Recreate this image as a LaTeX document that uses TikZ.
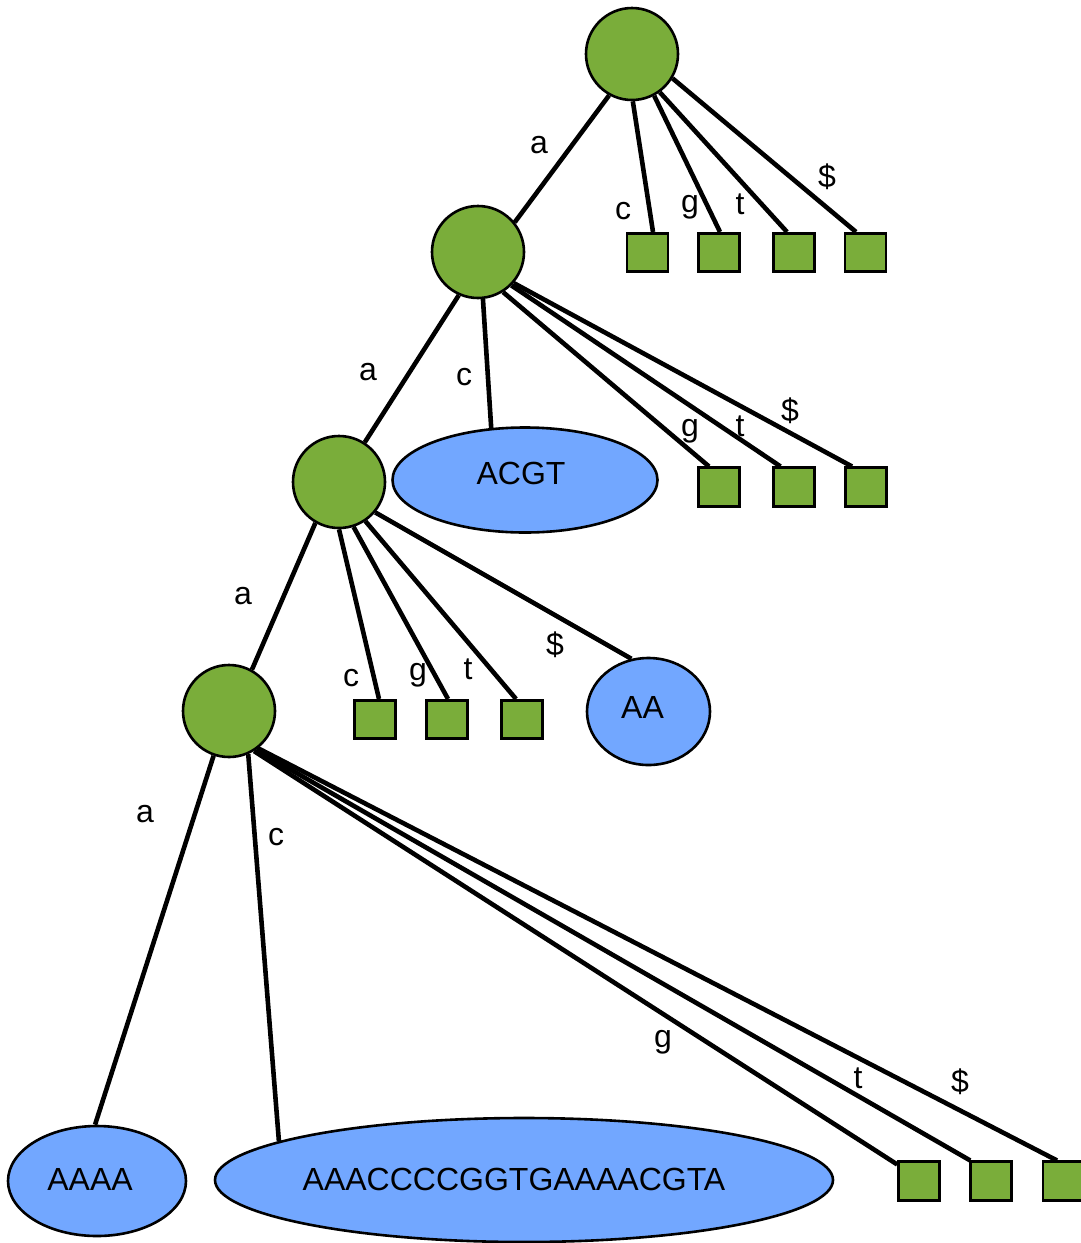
\documentclass[tikz,border=0pt]{standalone}
\usepackage{fontspec}
\setmainfont{Liberation Sans}
\usetikzlibrary{shapes.geometric,calc,backgrounds}
\definecolor{ngreen}{RGB}{122,173,58}
\definecolor{nblue}{RGB}{114,167,255}
\begin{document}
\begin{tikzpicture}[x=1pt,y=-1pt, font=\fontsize{32}{38}\selectfont,
  inode/.style={circle, draw=black, line width=2.6pt, fill=ngreen, minimum size=92pt, inner sep=0pt},
  leaf/.style={rectangle, draw=black, line width=2.6pt, fill=ngreen, minimum width=41pt, minimum height=38.5pt, inner sep=0pt},
  seq/.style={ellipse, draw=black, line width=2.6pt, fill=nblue, inner sep=0pt, text height=23pt},
  conn/.style={line width=4.6pt},
  lbl/.style={anchor=base, inner sep=0pt}]
\useasboundingbox (0,0) rectangle (1081,1243);
% internal nodes
\node[inode] (r0) at (632,54) {};
\node[inode] (n1) at (478,252) {};
\node[inode] (n2) at (339,482) {};
\node[inode] (n3) at (229,711) {};
% leaves of root
\node[leaf] (s01) at (647.5,252.5) {};
\node[leaf] (s02) at (719,252.5) {};
\node[leaf] (s03) at (794,252.5) {};
\node[leaf] (s04) at (865.5,252.5) {};
% children of n1
\node[seq, minimum width=265pt, minimum height=105pt, text depth=15pt] (acgt) at (525,480) {\kern-8pt ACGT};
\node[leaf] (s11) at (719,487) {};
\node[leaf] (s12) at (794,487) {};
\node[leaf] (s13) at (866,487) {};
% children of n2
\node[leaf] (s21) at (375,719.5) {};
\node[leaf] (s22) at (447,719.5) {};
\node[leaf] (s23) at (522,719.5) {};
\node[seq, minimum width=123pt, minimum height=107pt, text depth=9pt] (aa) at (648.5,711.5) {\kern-12pt AA};
% children of n3
\node[seq, minimum width=178pt, minimum height=110pt, text depth=5pt] (aaaa) at (97,1181) {\kern-14pt AAAA};
\node[seq, minimum width=618pt, minimum height=124pt, text depth=2pt] (big) at (524,1180) {\kern-20pt AAACCCCGGTGAAAACGTA};
\node[leaf] (s31) at (919,1181) {};
\node[leaf] (s32) at (991,1181) {};
\node[leaf] (s33) at (1063.5,1181) {};
% edges
\begin{scope}[on background layer]
\draw[conn] (r0.241) -- (n1.39);
\draw[conn] (r0.271) -- ($(s01.north)+(5.5,0)$);
\draw[conn] (r0.298) -- ($(s02.north)+(1,0)$);
\draw[conn] (r0.306) -- ($(s03.north)+(-7,0)$);
\draw[conn] (r0.329) -- ($(s04.north)+(-9.5,0)$);
\draw[conn] (n1.246) -- (n2.57);
\draw[conn] (n1.276) -- (acgt.123);
\draw[conn] (n1.302) -- ($(s11.north)+(-10,0)$);
\draw[conn] (n1.315) -- ($(s12.north)+(-13.5,0)$);
\draw[conn] (n1.319) -- ($(s13.north)+(-14,0)$);
\draw[conn] (n2.240) -- (n3.61);
\draw[conn] (n2.270) -- ($(s21.north)+(4,0)$);
\draw[conn] (n2.288) -- ($(s22.north)+(1,0)$);
\draw[conn] (n2.304) -- ($(s23.north)+(-6,0)$);
\draw[conn] (n2.320) -- (aa.108);
\draw[conn] (n3.251) -- (aaaa.92);
\draw[conn] (n3.294) -- (big.171);
\draw[conn] (n3.302) -- ($(s31.north west)+(0,4)$);
\draw[conn] (n3.305) -- ($(s32.north west)+(1,0)$);
\draw[conn] (n3.308) -- ($(s33.north)+(-6.5,0)$);
\end{scope}
% labels
\node[lbl] (la0) at (539,153) {a};
\node[lbl] (lc0) at (623,219) {c};
\node[lbl] (lg0) at (690,212) {g};
\node[lbl] (lt0) at (740,214) {t};
\node[lbl] (ld0) at (827,187) {\$};
\node[lbl] (la1) at (368,380) {a};
\node[lbl] (lc1) at (464,385) {c};
\node[lbl] (lg1) at (690,436) {g};
\node[lbl] (lt1) at (740,436) {t};
\node[lbl] (ld1) at (790,421) {\$};
\node[lbl] (la2) at (243,604) {a};
\node[lbl] (lc2) at (351,686) {c};
\node[lbl] (lg2) at (418,680) {g};
\node[lbl] (lt2) at (468,679) {t};
\node[lbl] (ld2) at (555,655) {\$};
\node[lbl] (la3) at (145,822) {a};
\node[lbl] (lc3) at (276,845) {c};
\node[lbl] (lg3) at (663,1047) {g};
\node[lbl] (lt3) at (858,1088) {t};
\node[lbl] (ld3) at (960,1092) {\$};
\end{tikzpicture}
\end{document}
